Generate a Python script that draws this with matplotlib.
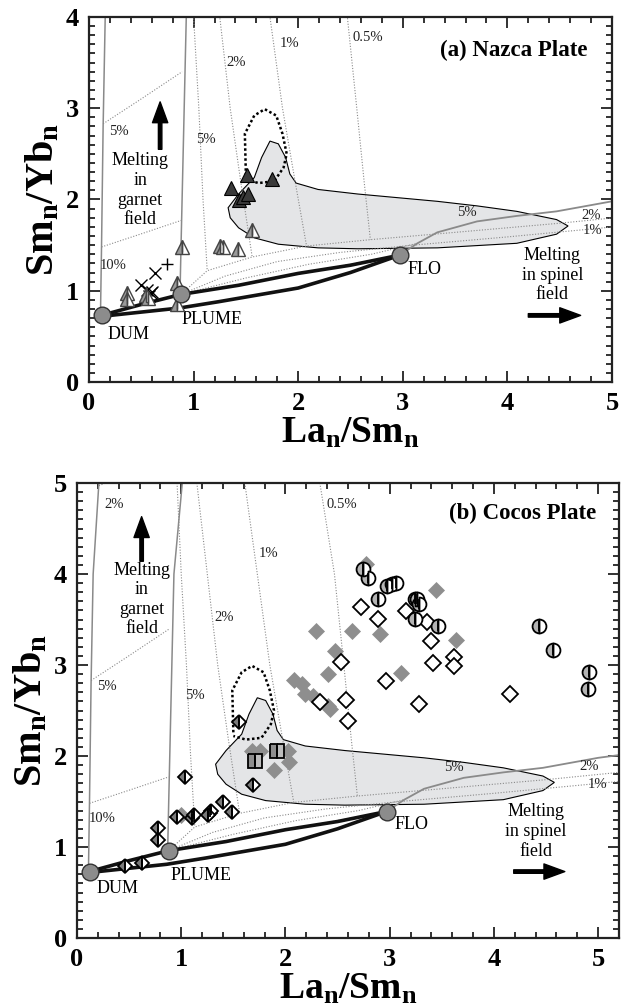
import numpy as np
import matplotlib
matplotlib.use("Agg")
import matplotlib.pyplot as plt
from matplotlib.ticker import MultipleLocator

plt.rcParams['font.family'] = ['Liberation Serif', 'DejaVu Serif']
plt.rcParams['mathtext.fontset'] = 'custom'
plt.rcParams['mathtext.rm'] = 'Liberation Serif'
plt.rcParams['mathtext.bf'] = 'Liberation Serif:bold'

# --------------------------------------------------
# model curves (shared by both panels)
# --------------------------------------------------
em_names = ["DUM", "PLUME", "FLO"]
em_x = [0.12, 0.88, 2.97]
em_y = [0.73, 0.96, 1.39]

mix_upper_x = [0.12, 0.50, 0.88, 1.43, 2.00, 2.50, 2.97]
mix_upper_y = [0.73, 0.85, 0.96, 1.06, 1.19, 1.28, 1.39]
mix_lower_x = [0.12, 0.86, 1.24, 2.00, 2.50, 2.97]
mix_lower_y = [0.72, 0.81, 0.88, 1.03, 1.20, 1.39]

garnet_dum_x = [0.11, 0.12, 0.135, 0.155, 0.21]
garnet_dum_y = [0.75, 1.50, 2.80, 4.00, 5.00]
garnet_plume_x = [0.87, 0.88, 0.90, 0.93, 1.01]
garnet_plume_y = [0.97, 1.50, 2.50, 4.00, 5.00]

spinel_x = [2.97, 3.14, 3.33, 3.71, 4.09, 4.47, 5.00, 5.20]
spinel_y = [1.39, 1.52, 1.64, 1.76, 1.82, 1.87, 1.98, 2.01]

# melt-fraction isopleths (dotted)
g2_x, g2_y = [0.21, 0.38], [4.97, 5.05]
g5_x, g5_y = [0.135, 0.47, 0.89], [2.83, 3.08, 3.40]
g10_x, g10_y = [0.12, 0.49, 0.88], [1.48, 1.62, 1.77]
iso5_x, iso5_y = [0.96, 1.00, 1.05, 1.09, 1.13], [5.0, 4.0, 3.0, 2.0, 1.22]
iso2_x, iso2_y = [1.15, 1.25, 1.35, 1.45, 1.56], [5.0, 4.0, 3.0, 2.2, 1.37]
iso1_x, iso1_y = [1.61, 1.73, 1.85, 1.97, 2.08], [5.0, 4.0, 3.0, 2.2, 1.49]
iso05_x, iso05_y = [2.33, 2.47, 2.56, 2.63, 2.69], [5.0, 4.0, 3.0, 2.2, 1.56]

fan1_x = [0.88, 1.13, 1.56, 2.08, 2.69, 3.50, 4.50, 5.20]
fan1_y = [0.96, 1.22, 1.37, 1.49, 1.56, 1.64, 1.74, 1.82]
fan2_x = [0.88, 1.30, 1.80, 2.40, 3.10, 4.00, 5.20]
fan2_y = [0.96, 1.16, 1.32, 1.42, 1.50, 1.59, 1.72]
fan3_x = [0.88, 1.50, 2.10, 2.70, 3.14]
fan3_y = [0.96, 1.14, 1.29, 1.40, 1.52]
fan4_x = [0.88, 1.70, 2.40, 2.97]
fan4_y = [0.96, 1.12, 1.27, 1.39]

# shaded field and dotted field
field_x = [1.33, 1.43, 1.58, 1.65, 1.73, 1.81, 1.88, 1.92, 1.98, 2.19, 2.57, 2.95,
           3.33, 3.71, 4.09, 4.47, 4.58, 4.47, 4.09, 3.33, 2.57, 2.19, 1.81, 1.58,
           1.43, 1.35, 1.33]
field_y = [1.91, 2.06, 2.24, 2.46, 2.64, 2.61, 2.46, 2.28, 2.18, 2.11, 2.06, 2.02,
           1.98, 1.93, 1.87, 1.78, 1.71, 1.62, 1.52, 1.47, 1.46, 1.47, 1.51, 1.58,
           1.69, 1.80, 1.91]
loop_x = [1.50, 1.49, 1.58, 1.68, 1.79, 1.85, 1.89, 1.86, 1.77, 1.62, 1.50]
loop_y = [2.26, 2.72, 2.92, 2.99, 2.92, 2.72, 2.50, 2.35, 2.20, 2.18, 2.22]

# --------------------------------------------------
# (a) Nazca samples
# --------------------------------------------------
naz_dark_x = [1.51, 1.75, 1.36, 1.43, 1.47, 1.52]
naz_dark_y = [2.27, 2.22, 2.13, 1.99, 2.03, 2.06]
naz_half_x = [0.36, 0.36, 0.545, 0.56, 0.84, 0.84, 0.89, 1.25, 1.28, 1.42, 1.56]
naz_half_y = [0.97, 0.91, 0.95, 0.92, 1.09, 0.86, 1.48, 1.49, 1.48, 1.46, 1.67]
naz_cross_x = [0.63, 0.50, 0.55, 0.59, 0.57, 0.60]
naz_cross_y = [1.20, 1.06, 1.01, 0.97, 0.94, 0.99]
naz_plus_x = [0.75]
naz_plus_y = [1.29]

# --------------------------------------------------
# (b) Cocos samples
# --------------------------------------------------
coc_gray_x = [2.77, 3.44, 2.29, 2.64, 2.91, 3.64, 2.48, 2.41, 3.11, 2.08, 2.16,
              2.19, 2.26, 2.33, 2.41, 2.43, 1.68, 1.76, 2.02, 2.03, 1.89, 1.00]
coc_gray_y = [4.11, 3.82, 3.37, 3.37, 3.34, 3.27, 3.15, 2.90, 2.91, 2.84, 2.79,
              2.68, 2.66, 2.59, 2.55, 2.52, 2.06, 2.06, 2.06, 1.93, 1.85, 1.35]
coc_open_x = [2.72, 2.89, 3.16, 3.36, 3.40, 2.53, 3.42, 3.62, 3.62, 2.96, 2.58,
              2.33, 2.60, 3.28, 4.15]
coc_open_y = [3.64, 3.51, 3.59, 3.47, 3.26, 3.03, 3.02, 3.09, 2.99, 2.82, 2.62,
              2.59, 2.39, 2.57, 2.68]
coc_circ_x = [2.74, 2.79, 2.89, 2.97, 3.02, 3.06, 3.24, 3.26, 3.28, 3.24, 3.46,
              4.43, 4.57, 4.91, 4.90]
coc_circ_y = [4.05, 3.96, 3.73, 3.87, 3.89, 3.90, 3.73, 3.72, 3.67, 3.51, 3.43,
              3.43, 3.16, 2.92, 2.74]
coc_sq_x = [1.71, 1.92]
coc_sq_y = [1.95, 2.06]
coc_hd_x = [1.04, 0.78, 0.78, 0.96, 1.10, 1.12, 1.28, 1.29, 1.26, 1.40, 1.49,
            1.69, 0.46, 0.62, 1.55]
coc_hd_y = [1.77, 1.21, 1.08, 1.33, 1.32, 1.35, 1.37, 1.40, 1.35, 1.50, 1.38,
            1.68, 0.79, 0.82, 2.37]


def half_marker(ax, xs, ys, marker, ms, left, right, edge, lw=1.1, z=6):
    ax.plot(xs, ys, ls='none', marker=marker, ms=ms, mfc=left, fillstyle='left',
            markerfacecoloralt=right, mec=edge, mew=lw, zorder=z)
    ax.plot(xs, ys, ls='none', marker='|', ms=ms * 0.75, mec=edge, mew=lw, zorder=z)


def draw_models(ax, xmax, ymax):
    gc = '#8a8a8a'
    dot = dict(color='#8a8a8a', lw=0.8, ls=(0, (1, 1.5)), zorder=2)
    ax.fill(field_x, field_y, facecolor='#e4e5e7', edgecolor='black', lw=0.8, zorder=1)
    ax.plot(loop_x, loop_y, color='black', lw=1.8, ls=(0, (1, 1)), zorder=3)
    for xs, ys in [(g2_x, g2_y), (g5_x, g5_y), (g10_x, g10_y), (iso5_x, iso5_y),
                   (iso2_x, iso2_y), (iso1_x, iso1_y), (iso05_x, iso05_y),
                   (fan1_x, fan1_y), (fan2_x, fan2_y), (fan3_x, fan3_y),
                   (fan4_x, fan4_y)]:
        ax.plot(xs, ys, **dot)
    ax.plot(garnet_dum_x, garnet_dum_y, color=gc, lw=1.1, zorder=2)
    ax.plot(garnet_plume_x, garnet_plume_y, color=gc, lw=1.1, zorder=2)
    ax.plot(spinel_x, spinel_y, color=gc, lw=1.3, zorder=2)
    ax.plot(mix_upper_x, mix_upper_y, color='#111111', lw=2.6, zorder=4)
    ax.plot(mix_lower_x, mix_lower_y, color='#111111', lw=2.6, zorder=4)
    ax.plot(em_x, em_y, ls='none', marker='o', ms=12, mfc='#8c8c8c', mec='#333333',
            mew=1.0, zorder=8)

    ax.set_xlim(0, xmax)
    ax.set_ylim(0, ymax)
    ax.xaxis.set_major_locator(MultipleLocator(1))
    ax.xaxis.set_minor_locator(MultipleLocator(0.2))
    ax.yaxis.set_major_locator(MultipleLocator(1))
    ax.yaxis.set_minor_locator(MultipleLocator(0.1))
    ax.tick_params(which='both', direction='in', top=True, right=True, width=1.3,
                   color='#222222')
    ax.tick_params(which='major', length=8, labelsize=19, pad=7)
    ax.tick_params(which='minor', length=4.5)
    for lab in ax.get_xticklabels() + ax.get_yticklabels():
        lab.set_fontweight('bold')
    for sp in ax.spines.values():
        sp.set_linewidth(1.6)
        sp.set_color('#222222')
    ax.set_xlabel(r'$\mathbf{La_n/Sm_n}$', fontsize=27, labelpad=1)
    ax.set_ylabel(r'$\mathbf{Sm_n/Yb_n}$', fontsize=29, labelpad=3)


def arrow(ax, x0, y0, x1, y1):
    ax.annotate('', xy=(x1, y1), xytext=(x0, y0),
                arrowprops=dict(width=2.5, headwidth=11, headlength=15, shrink=0,
                                color='black'), zorder=9)


fig = plt.figure(figsize=(6.21, 10.08), dpi=100)
ax1 = fig.add_axes([89 / 621, 1 - 382 / 1008, (612 - 89) / 621, (382 - 17) / 1008])
ax2 = fig.add_axes([77 / 621, 1 - 938 / 1008, (619 - 77) / 621, (938 - 483) / 1008])

# ---------------- panel (a) ----------------
draw_models(ax1, 5, 4)
ax1.plot(naz_cross_x, naz_cross_y, ls='none', marker='x', ms=8, mec='black', mew=1.0, zorder=5)
ax1.plot(naz_plus_x, naz_plus_y, ls='none', marker='+', ms=8, mec='black', mew=1.0, zorder=5)
half_marker(ax1, naz_half_x, naz_half_y, '^', 9.5, '#9a9a9a', 'white', '#444444', lw=1.0)
ax1.plot(naz_dark_x, naz_dark_y, ls='none', marker='^', ms=10, mfc='#3a3a3a', mec='black',
         mew=0.8, zorder=7)

ax1.text(4.77, 3.63, '(a) Nazca Plate', fontsize=16.5, fontweight='bold', ha='right', va='center')
ax1.text(0.49, 2.1, 'Melting\nin\ngarnet\nfield', fontsize=13, ha='center', va='center',
         linespacing=1.2)
arrow(ax1, 0.68, 2.55, 0.68, 3.07)
ax1.text(4.43, 1.17, 'Melting\nin spinel\nfield', fontsize=13, ha='center', va='center',
         linespacing=1.2)
arrow(ax1, 4.2, 0.73, 4.7, 0.73)
ax1.text(0.38, 0.52, 'DUM', fontsize=13, ha='center', va='center')
ax1.text(1.18, 0.68, 'PLUME', fontsize=13, ha='center', va='center')
ax1.text(3.21, 1.23, 'FLO', fontsize=13, ha='center', va='center')
for tx, ty, s in [(0.285, 2.75, '5%'), (0.23, 1.28, '10%'), (1.12, 2.66, '5%'),
                  (1.41, 3.50, '2%'), (1.92, 3.71, '1%'), (2.67, 3.78, '0.5%'),
                  (3.61, 1.86, '5%'), (4.80, 1.83, '2%'), (4.81, 1.66, '1%')]:
    ax1.text(tx, ty, s, fontsize=10.5, ha='center', va='center', color='#222222')

# ---------------- panel (b) ----------------
draw_models(ax2, 5.2, 5)
ax2.plot(coc_gray_x, coc_gray_y, ls='none', marker='D', ms=8, mfc='#8e8e8e', mec='#8e8e8e',
         mew=0.5, zorder=5)
ax2.plot(coc_open_x, coc_open_y, ls='none', marker='D', ms=8, mfc='white', mec='black',
         mew=1.3, zorder=6)
half_marker(ax2, coc_circ_x, coc_circ_y, 'o', 10, '#b4b4b4', 'white', 'black', lw=1.3)
half_marker(ax2, coc_sq_x, coc_sq_y, 's', 9.5, '#8e8e8e', '#bdbdbd', 'black', lw=1.3)
half_marker(ax2, coc_hd_x, coc_hd_y, 'D', 7.5, '#7a7a7a', 'white', 'black', lw=1.3)

ax2.text(4.98, 4.66, '(b) Cocos Plate', fontsize=16.5, fontweight='bold', ha='right', va='center')
ax2.text(0.62, 3.72, 'Melting\nin\ngarnet\nfield', fontsize=13, ha='center', va='center',
         linespacing=1.2)
arrow(ax2, 0.62, 4.14, 0.62, 4.63)
ax2.text(4.40, 1.17, 'Melting\nin spinel\nfield', fontsize=13, ha='center', va='center',
         linespacing=1.2)
arrow(ax2, 4.19, 0.73, 4.68, 0.73)
ax2.text(0.39, 0.54, 'DUM', fontsize=13, ha='center', va='center')
ax2.text(1.19, 0.69, 'PLUME', fontsize=13, ha='center', va='center')
ax2.text(3.21, 1.25, 'FLO', fontsize=13, ha='center', va='center')
for tx, ty, s in [(0.36, 4.76, '2%'), (0.29, 2.76, '5%'), (0.24, 1.31, '10%'),
                  (1.13, 2.67, '5%'), (1.41, 3.52, '2%'), (1.84, 4.23, '1%'),
                  (2.54, 4.76, '0.5%'), (3.62, 1.87, '5%'), (4.91, 1.89, '2%'),
                  (4.99, 1.69, '1%')]:
    ax2.text(tx, ty, s, fontsize=10.5, ha='center', va='center', color='#222222')

fig.savefig('out.png', dpi=100)
